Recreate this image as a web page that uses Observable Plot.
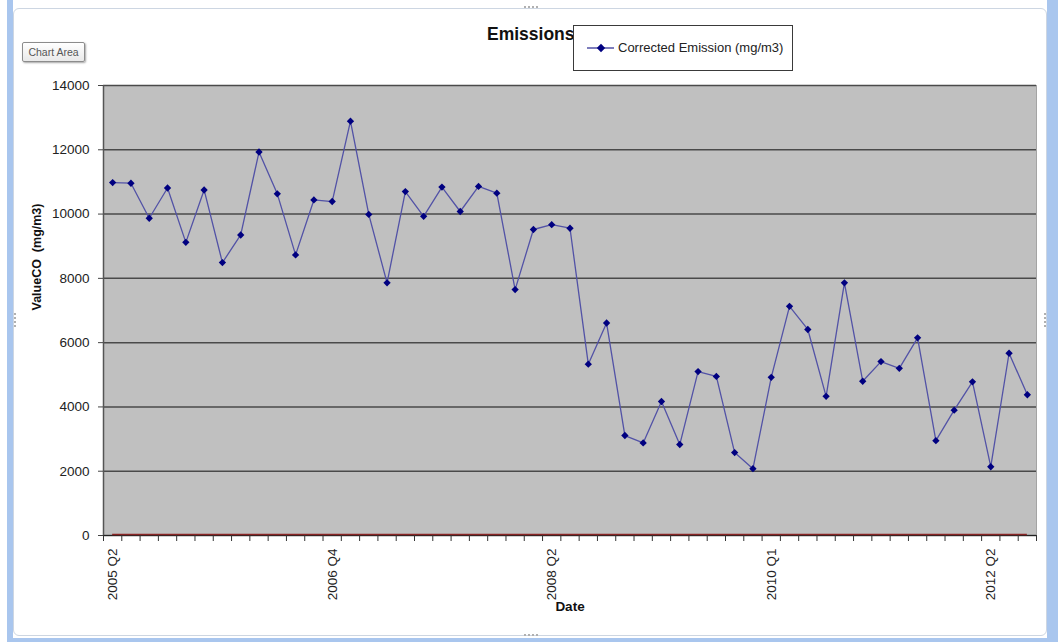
<!DOCTYPE html>
<html>
<head>
<meta charset="utf-8">
<script src="https://cdn.jsdelivr.net/npm/d3@7"></script>
<script src="https://cdn.jsdelivr.net/npm/@observablehq/plot@0.6"></script>
<style>
html,body{margin:0;padding:0;background:#fff;}
#wrap{position:relative;width:1058px;height:642px;overflow:hidden;font-family:"Liberation Sans",Arial,sans-serif;background:#fff;}
#win{position:absolute;left:7px;top:0;width:1051px;height:642px;box-sizing:border-box;border-left:6px solid #a9c6ee;border-right:11px solid #a9c6ee;border-bottom:4px solid #a9c6ee;}
#panel{position:absolute;left:13px;top:8px;width:1034px;height:628px;box-sizing:border-box;border:1px solid #cdd6e2;border-radius:6px;background:#fff;}
#chart{position:absolute;left:0;top:0;}
#title{position:absolute;left:487px;top:24px;font-weight:bold;font-size:17.5px;line-height:20px;color:#111;}
#legend{position:absolute;left:573px;top:25px;width:220px;height:46px;box-sizing:border-box;border:1.5px solid #3a3a3a;background:#fff;}
#legend svg{position:absolute;left:0;top:0;}
#legend span{position:absolute;left:44px;top:14px;font-size:13px;line-height:16px;color:#222;white-space:nowrap;}
#btn{position:absolute;left:22px;top:42px;width:63px;height:20px;box-sizing:border-box;border:1px solid #8c8c8c;border-radius:2px;background:linear-gradient(#ffffff,#e9e9e9);box-shadow:1px 1px 2px rgba(0,0,0,0.35);font-size:10.5px;line-height:18px;text-align:center;color:#555;}
.h{position:absolute;border-color:#b0b0b0;border-style:dotted;border-width:0;}
</style>
</head>
<body>
<div id="wrap">
  <div id="win"></div>
  <div id="panel"></div>
  <div class="h" style="left:524px;top:6px;width:14px;border-top-width:2px;"></div>
  <div class="h" style="left:524px;top:634px;width:14px;border-top-width:2px;"></div>
  <div class="h" style="left:14px;top:313px;height:14px;border-left-width:2px;"></div>
  <div class="h" style="left:1044px;top:313px;height:14px;border-left-width:2px;"></div>
  <div id="chart"></div>
  <div id="title">Emissions</div>
  <div id="legend">
    <svg width="44" height="44"><line x1="13" y1="22" x2="40" y2="22" stroke="#5252a6" stroke-width="1.5"/><path d="M27,17.8 L31.2,22 L27,26.2 L22.8,22 Z" fill="#000080"/></svg>
    <span>Corrected Emission (mg/m3)</span>
  </div>
  <div id="btn">Chart Area</div>
</div>
<script>
// Corrected Emission (mg/m3), one value per sample
const values = [10980, 10960, 9870, 10810, 9120, 10750, 8490, 9350, 11930, 10630,
  8730, 10440, 10390, 12890, 9990, 7860, 10700, 9930, 10840, 10080,
  10860, 10650, 7650, 9520, 9670, 9560, 5330, 6610, 3110, 2880,
  4170, 2830, 5100, 4950, 2580, 2080, 4920, 7130, 6410, 4330,
  7860, 4800, 5410, 5200, 6150, 2950, 3900, 4780, 2140, 5670, 4380];
// category labels shown on the axis (every 12th sample)
const tickIndex = [0, 12, 24, 36, 48];
const tickLabels = ["2005 Q2", "2006 Q4", "2008 Q2", "2010 Q1", "2012 Q2"];
const yTicks = [0, 2000, 4000, 6000, 8000, 10000, 12000, 14000];

const n = values.length;
const boundaries = d3.range(n + 1).map(i => i - 0.5);

const chart = Plot.plot({
  width: 1058, height: 642,
  marginLeft: 103, marginRight: 22, marginTop: 85, marginBottom: 107,
  style: {fontFamily: "'Liberation Sans', Arial, sans-serif", fontSize: "13.5px", color: "#222", background: "transparent", overflow: "visible"},
  x: {type: "linear", domain: [-0.5, n - 0.5], axis: null},
  y: {domain: [0, 14000], axis: null},
  marks: [
    Plot.frame({fill: "#c0c0c0", stroke: "#a4a4a4"}),
    Plot.gridY(yTicks, {stroke: "#4a4a4a", strokeOpacity: 1, strokeWidth: 1.5}),
    Plot.ruleX([-0.5], {stroke: "#555", strokeWidth: 1.5}),
    Plot.ruleY([0], {stroke: "#222", strokeWidth: 1.2}),
    Plot.ruleY([0], {x1: 0, x2: n - 1, stroke: "#8a2525", strokeWidth: 1.5, dy: -1}),
    Plot.line(values, {x: (d, i) => i, y: d => d, stroke: "#5252a6", strokeWidth: 1.3}),
    Plot.dot(values, {x: (d, i) => i, y: d => d, symbol: "diamond2", r: 3.3, fill: "#000080", stroke: "none"}),
    Plot.axisY(yTicks, {tickSize: 5, tickPadding: 9, stroke: "#444", tickFormat: "d", label: null}),
    Plot.axisX(boundaries, {tickSize: 6, tickFormat: () => "", stroke: "#333", label: null}),
    Plot.axisX(tickIndex, {tickSize: 0, tickPadding: 13, tickRotate: -90, tickFormat: d => tickLabels[tickIndex.indexOf(d)], label: null}),
    Plot.text(["Date"], {frameAnchor: "bottom", dy: 75, fontWeight: "bold", fontSize: 13.5, fill: "#111"}),
    Plot.text(["ValueCO\u00a0 (mg/m3)"], {frameAnchor: "left", dx: -67, rotate: -90, fontWeight: "bold", fontSize: 12.5, fill: "#111"})
  ]
});
document.getElementById("chart").appendChild(chart);
</script>
</body>
</html>
